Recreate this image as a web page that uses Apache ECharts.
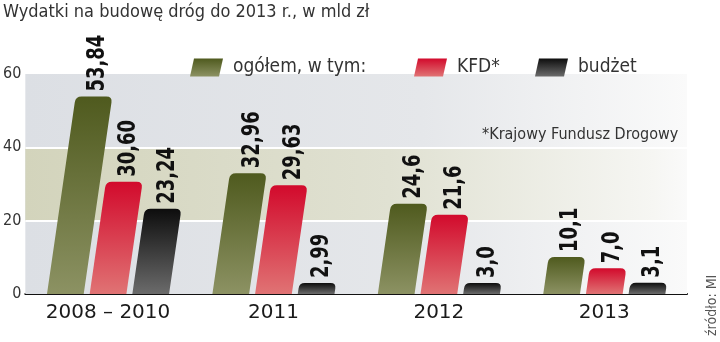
<!DOCTYPE html>
<html>
<head>
<meta charset="utf-8">
<script src="https://cdn.jsdelivr.net/npm/echarts@6/dist/echarts.min.js"></script>
<style>
html,body{margin:0;padding:0;background:#fff;}
#chart{width:720px;height:342px;}
</style>
</head>
<body>
<div id="chart"></div>
<script>
// ---- data ----
const categories = ['2008 – 2010', '2011', '2012', '2013'];
const decimals = [2, 2, 1, 1];
const ogolem = [53.84, 32.96, 24.6, 10.1];
const kfd = [30.60, 29.63, 21.6, 7.0];
const budzet = [23.24, 2.99, 3.0, 3.1];
const seriesNames = ['ogółem, w tym:', 'KFD*', 'budżet'];
const yTicks = [0, 20, 40, 60];

const NARROW = '"DejaVu Sans Condensed", "Liberation Sans Narrow", "DejaVu Sans", sans-serif';

function grad(top, bottom) {
  return {type: 'linear', x: 0, y: 0, x2: 0, y2: 1,
    colorStops: [{offset: 0, color: top}, {offset: 1, color: bottom}]};
}
const fills = [grad('#4f5a1e', '#8c9263'), grad('#d20a2c', '#e07374'), grad('#0d0d0d', '#6b6b6b')];
const offsets = [-0.258, 0, 0.258];
const BAR_W = 0.222;
const SLANT = 0.145;

function makeRender(si) {
  return function (params, api) {
    const idx = api.value(0), val = api.value(1);
    const base = api.coord([idx, 0]);
    const top = api.coord([idx, val]);
    const band = api.size([1, 0])[0];
    const w = BAR_W * band;
    const cx = base[0] + offsets[si] * band;
    const x0 = cx - w / 2, yb = base[1], yt = top[1];
    const h = yb - yt, s = h * SLANT;
    const L = Math.sqrt(s * s + h * h);
    const r = Math.min(6, h / 2);
    const dx = r * s / L, dy = r * h / L;
    const p = [
      'M', x0, yb,
      'L', x0 + s - dx, yt + dy,
      'Q', x0 + s, yt, x0 + s + r, yt,
      'L', x0 + s + w - r, yt,
      'Q', x0 + s + w, yt, x0 + s + w - dx, yt + dy,
      'L', x0 + w, yb, 'Z'
    ].join(' ');
    const label = val.toFixed(decimals[idx]).replace('.', ',');
    return {
      type: 'group',
      children: [
        {type: 'path', shape: {pathData: p}, style: {fill: fills[si]}},
        {type: 'text', x: x0 + s + w / 2 + 4, y: yt - 5, rotation: Math.PI / 2,
          scaleX: 0.8, scaleY: 1,
          style: {text: label, font: 'bold 25px ' + NARROW, fill: '#111',
            align: 'left', verticalAlign: 'middle'}}
      ]
    };
  };
}

const datasets = [ogolem, kfd, budzet];
const barSeries = datasets.map((arr, si) => ({
  type: 'custom',
  name: seriesNames[si],
  z: 5,
  itemStyle: {color: fills[si]},
  renderItem: makeRender(si),
  encode: {x: 0, y: 1},
  data: arr.map((v, i) => [i, v])
}));

const chart = echarts.init(document.getElementById('chart'), null, {renderer: 'canvas'});
const legendBase = {
  itemWidth: 33, itemHeight: 18, top: 58, padding: 0,
  icon: 'path://M4,0 L33,0 L29,18 L0,18 Z',
  textStyle: {fontFamily: NARROW, fontSize: 19, color: '#333', padding: [0, 0, 0, 5]}
};
chart.setOption({
  animation: false,
  backgroundColor: '#ffffff',
  title: {
    text: 'Wydatki na budowę dróg do 2013 r., w mld zł',
    left: 0, top: 1, padding: [2, 3],
    textStyle: {fontFamily: NARROW, fontSize: 18, fontWeight: 'normal', color: '#333'}
  },
  legend: [
    Object.assign({}, legendBase, {left: 190, data: [seriesNames[0]]}),
    Object.assign({}, legendBase, {left: 414, data: [seriesNames[1]]}),
    Object.assign({}, legendBase, {left: 535, data: [seriesNames[2]]})
  ],
  grid: {left: 22, right: 33, top: 74, bottom: 48, containLabel: false},
  xAxis: {
    type: 'category', data: categories,
    axisLine: {lineStyle: {color: '#111', width: 2}},
    axisTick: {show: false},
    axisLabel: {fontFamily: '"DejaVu Sans", sans-serif', fontSize: 20, color: '#1a1a1a', margin: 9}
  },
  yAxis: {
    type: 'value', min: yTicks[0], max: yTicks[yTicks.length - 1], interval: 20,
    axisLine: {show: false}, axisTick: {show: false}, splitLine: {show: false},
    axisLabel: {fontFamily: NARROW, fontSize: 16, color: '#333', margin: 4, padding: [6, 0, 0, 0]}
  },
  graphic: [
    {type: 'text', left: 482, top: 127, z: 100,
      style: {text: '*Krajowy Fundusz Drogowy', font: '16px ' + NARROW, fill: '#333'}},
    {type: 'text', x: 712, y: 336, rotation: Math.PI / 2, z: 100,
      style: {text: 'źródło: MI', font: '14px ' + NARROW, fill: '#555', align: 'left', verticalAlign: 'middle'}}
  ],
  series: [
    {
      type: 'line', data: [], z: 1, silent: true,
      markArea: {
        silent: true,
        data: [
          [{yAxis: 0, itemStyle: {color: {type: 'linear', x: 0, y: 0, x2: 1, y2: 0,
            colorStops: [{offset: 0, color: '#dcdfe4'}, {offset: 0.6, color: '#e5e7ea'}, {offset: 1, color: '#fafafa'}]}}},
           {yAxis: 60}],
          [{yAxis: 20, itemStyle: {color: {type: 'linear', x: 0, y: 0, x2: 1, y2: 0,
            colorStops: [{offset: 0, color: '#d3d4bc'}, {offset: 0.55, color: '#e0e1d2'}, {offset: 0.95, color: '#f6f6f3'}, {offset: 1, color: '#fafafa'}]}}},
           {yAxis: 40}]
        ]
      }
    },
    {
      type: 'line', data: [], z: 2, silent: true,
      markLine: {
        silent: true, symbol: 'none', label: {show: false},
        lineStyle: {color: '#ffffff', width: 2, type: 'solid'},
        data: [{yAxis: 20}, {yAxis: 40}]
      }
    }
  ].concat(barSeries)
});
</script>
</body>
</html>
